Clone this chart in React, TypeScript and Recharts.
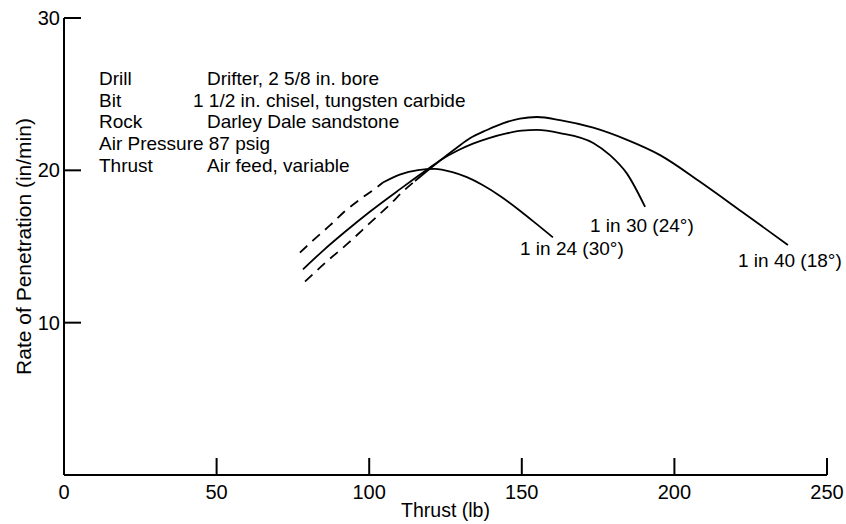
import React from 'react';
import { LineChart, Line, XAxis, YAxis } from 'recharts';

const FONT = '"Liberation Sans", Arial, Helvetica, sans-serif';

// tick values
const thrustTicks = [0, 50, 100, 150, 200, 250];
const rateTicks = [10, 20, 30];

// 1 in 24 (30°): dashed at low thrust, solid after
const c24DashThrust = [77.3, 81.6, 87.2, 91.4, 97, 102.6, 104.5];
const c24DashRate = [14.6, 15.4, 16.4, 17.2, 18.1, 18.9, 19.2];
const c24Thrust = [104.5, 110, 116, 121.5, 127, 132, 137, 143, 149.4, 155, 160.2];
const c24Rate = [19.2, 19.72, 20.02, 20.1, 19.9, 19.55, 19.05, 18.3, 17.35, 16.45, 15.6];

// 1 in 30 (24°): solid throughout
const c30Thrust = [78.3, 85, 92, 100, 110, 119, 124, 129, 134, 139, 145, 150, 155, 162.5, 173.4, 178.9, 184.4, 190.4];
const c30Rate = [13.5, 14.75, 15.95, 17.25, 18.75, 20.05, 20.75, 21.3, 21.75, 22.1, 22.42, 22.6, 22.65, 22.45, 21.8, 21.0, 19.8, 17.6];

// 1 in 40 (18°): dashed at low thrust, solid after
const c40DashThrust = [79, 86, 93, 100, 107, 111, 115];
const c40DashRate = [12.7, 14.0, 15.2, 16.5, 17.8, 18.6, 19.3];
const c40Thrust = [115, 122, 128.8, 133, 138.6, 144, 149.4, 155, 162.5, 173.4, 184.5, 195.3, 208.4, 222, 237.2];
const c40Rate = [19.3, 20.45, 21.5, 22.1, 22.65, 23.1, 23.4, 23.5, 23.3, 22.8, 22.0, 21.0, 19.25, 17.3, 15.1];

const notes = [
  ['Drill', 'Drifter, 2 5/8 in. bore'],
  ['Bit', '1 1/2 in. chisel, tungsten carbide'],
  ['Rock', 'Darley Dale sandstone'],
  ['Air Pressure 87 psig', ''],
  ['Thrust', 'Air feed, variable'],
];

const toRows = (xs: number[], ys: number[]) => xs.map((t, i) => ({ thrust: t, rate: ys[i] }));

const XTick = (props: any) => {
  const { x, y, payload } = props;
  return (
    <g>
      {payload.value !== 0 && <line x1={x} x2={x} y1={y} y2={y - 17} stroke="#000" strokeWidth={2} />}
      <text x={x} y={y + 24} textAnchor="middle" fontSize={20} fontFamily={FONT} fill="#000">
        {payload.value}
      </text>
    </g>
  );
};

const YTick = (props: any) => {
  const { x, y, payload } = props;
  return (
    <g>
      <line x1={x} x2={x + 17} y1={y} y2={y} stroke="#000" strokeWidth={2} />
      <text x={x - 4} y={y + 7} textAnchor="end" fontSize={20} fontFamily={FONT} fill="#000">
        {payload.value}
      </text>
    </g>
  );
};

export default function App() {
  const lineProps = {
    dataKey: 'rate',
    type: 'monotone' as const,
    stroke: '#000',
    strokeWidth: 1.8,
    dot: false,
    activeDot: false,
    isAnimationActive: false,
  };
  return (
    <div style={{ position: 'absolute', left: 0, top: 0, width: 846, height: 524, background: '#fff' }}>
      <LineChart width={846} height={524} margin={{ top: 18, right: 19, left: 0, bottom: 0 }}>
        <XAxis
          dataKey="thrust"
          type="number"
          domain={[0, 250]}
          ticks={thrustTicks}
          tickSize={0}
          tickMargin={0}
          tick={<XTick />}
          height={49}
          axisLine={{ stroke: '#000', strokeWidth: 2 }}
          tickLine={false}
          label={{ value: 'Thrust (lb)', position: 'insideBottom', offset: 7, fill: '#000', fontSize: 19.5, fontFamily: FONT }}
        />
        <YAxis
          type="number"
          domain={[0, 30]}
          ticks={rateTicks}
          tickSize={0}
          tickMargin={0}
          tick={<YTick />}
          width={64}
          axisLine={{ stroke: '#000', strokeWidth: 2 }}
          tickLine={false}
          label={{
            value: 'Rate of Penetration (in/min)',
            angle: -90,
            position: 'insideLeft',
            offset: 24,
            fill: '#000',
            fontSize: 21,
            fontFamily: FONT,
            style: { textAnchor: 'middle' },
          }}
        />
        <Line {...lineProps} data={toRows(c24DashThrust, c24DashRate)} strokeDasharray="10 7" />
        <Line {...lineProps} data={toRows(c24Thrust, c24Rate)} />
        <Line {...lineProps} data={toRows(c30Thrust, c30Rate)} />
        <Line {...lineProps} data={toRows(c40DashThrust, c40DashRate)} strokeDasharray="10 7" />
        <Line {...lineProps} data={toRows(c40Thrust, c40Rate)} />
        <g fontFamily={FONT} fontSize={19} fill="#000">
          {notes.map(([k, v], i) => (
            <g key={k}>
              <text x={99} y={85 + i * 21.7}>{k}</text>
              {v && <text x={i === 1 ? 193 : 207} y={85 + i * 21.7}>{v}</text>}
            </g>
          ))}
          <text x={520} y={255}>1 in 24 (30°)</text>
          <text x={590} y={232}>1 in 30 (24°)</text>
          <text x={738} y={267}>1 in 40 (18°)</text>
        </g>
      </LineChart>
    </div>
  );
}
